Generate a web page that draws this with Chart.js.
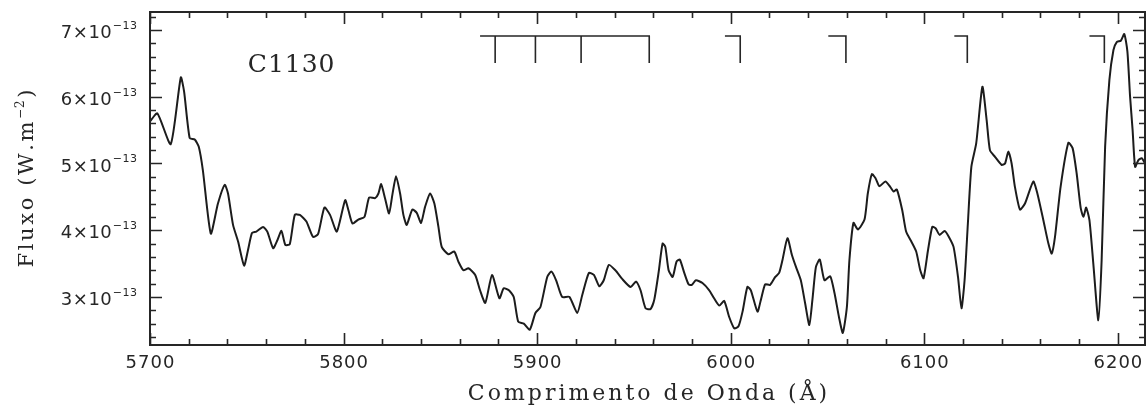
<!DOCTYPE html>
<html>
<head>
<meta charset="utf-8">
<script src="https://cdn.jsdelivr.net/npm/chart.js@4.4.1/dist/chart.umd.min.js"></script>
<style>
  html, body { margin: 0; padding: 0; background: #fff; }
  #espectro { display: block; }
</style>
</head>
<body>
<canvas id="espectro" width="1147" height="408"></canvas>
<script>
// comprimento de onda (Å)
const lambdas = [
  5700, 5703.8, 5710.7, 5715.9, 5717.6, 5720.5, 5723.1, 5725.2, 5727.3, 5731.4,
  5735.1, 5738.6, 5740.3, 5742.9, 5745.5, 5748.6, 5750.6, 5752.7, 5754.9, 5758.4,
  5760.6, 5763.6, 5765.8, 5767.9, 5769.9, 5772.2, 5774.8, 5777.4, 5780.8, 5784.2,
  5786.8, 5790.1, 5793, 5796.5, 5800.8, 5802.5, 5804.6, 5807.6, 5810.8, 5813.2,
  5816.3, 5818, 5819.4, 5821.4, 5823.5, 5825.2, 5827.1, 5829.2, 5830.9, 5832.6,
  5835.5, 5837.8, 5840, 5842.1, 5844.7, 5846.9, 5849, 5850.7, 5854.1, 5857.2,
  5859.3, 5861.9, 5864.5, 5868, 5870.5, 5873.2, 5876.7, 5880.5, 5882.7, 5885.4,
  5887.9, 5890.2, 5893.1, 5896.2, 5899.1, 5901.7, 5905.2, 5907.4, 5909.8, 5912.9,
  5916.7, 5920.7, 5923.3, 5926.7, 5929.3, 5932.1, 5934.4, 5937, 5940.4, 5943.9,
  5948.2, 5951.1, 5953.4, 5956, 5958.6, 5960.5, 5962.7, 5964.8, 5966.2, 5967.9,
  5970, 5972, 5973.7, 5976, 5978.2, 5979.9, 5982, 5985.4, 5988.9, 5991.4,
  5994.1, 5996.6, 5999.2, 6001.8, 6004, 6006.1, 6008.6, 6010.4, 6013.8, 6015.6,
  6017.8, 6020.3, 6023, 6025, 6026.7, 6029.3, 6031.6, 6033.7, 6036.2, 6038.4,
  6040.6, 6042.2, 6044, 6046, 6048.4, 6051.4, 6053.6, 6055.9, 6057.9, 6060,
  6061.3, 6063.4, 6065.7, 6069.1, 6070.8, 6072.9, 6074.8, 6076.8, 6079.9, 6082.4,
  6084.1, 6085.8, 6088.6, 6090.6, 6093.3, 6095.8, 6097.9, 6099.6, 6101.9, 6104.1,
  6105.8, 6107.9, 6110.5, 6112.7, 6115.1, 6117.4, 6119.2, 6120.8, 6122.5, 6124.3,
  6126.8, 6130, 6132.2, 6133.9, 6136.5, 6139.9, 6141.7, 6143.4, 6145.1, 6146.8,
  6149.4, 6152, 6156.3, 6158.4, 6161.5, 6164.1, 6165.8, 6167.5, 6170.4, 6174.4,
  6176.6, 6178.7, 6180.8, 6182.2, 6183.6, 6185.3, 6187.3, 6189.9, 6191.6, 6193.4,
  6195.6, 6197.7, 6199.4, 6201.5, 6203.3, 6204.9, 6206.3, 6207.6, 6208.9, 6210.6,
  6212.3, 6214
];

// fluxo, em unidades de 1e-13 W.m^-2
const fluxos = [
  5.63, 5.75, 5.29, 6.29, 6.08, 5.38, 5.36, 5.25, 4.90, 3.95,
  4.40, 4.68, 4.55, 4.08, 3.83, 3.47, 3.70, 3.96, 3.98, 4.05,
  3.98, 3.73, 3.85, 3.99, 3.78, 3.79, 4.23, 4.23, 4.13, 3.90,
  3.94, 4.34, 4.23, 3.98, 4.45, 4.30, 4.10, 4.16, 4.20, 4.49,
  4.48, 4.55, 4.69, 4.48, 4.25, 4.53, 4.81, 4.55, 4.23, 4.08,
  4.31, 4.26, 4.11, 4.35, 4.55, 4.40, 4.05, 3.75, 3.64, 3.68,
  3.53, 3.40, 3.43, 3.33, 3.10, 2.91, 3.33, 2.98, 3.13, 3.10,
  3.00, 2.63, 2.60, 2.51, 2.76, 2.85, 3.30, 3.38, 3.25, 3.00,
  3.00, 2.76, 3.03, 3.36, 3.33, 3.16, 3.25, 3.48, 3.40, 3.27,
  3.15, 3.23, 3.10, 2.83, 2.82, 2.96, 3.36, 3.80, 3.75, 3.40,
  3.30, 3.53, 3.56, 3.36, 3.19, 3.18, 3.25, 3.21, 3.10, 2.98,
  2.87, 2.94, 2.70, 2.53, 2.56, 2.78, 3.15, 3.10, 2.78, 2.96,
  3.19, 3.18, 3.30, 3.36, 3.55, 3.88, 3.63, 3.45, 3.25, 2.91,
  2.58, 2.96, 3.45, 3.56, 3.25, 3.31, 3.06, 2.70, 2.46, 2.85,
  3.55, 4.11, 4.01, 4.16, 4.55, 4.84, 4.78, 4.66, 4.73, 4.65,
  4.58, 4.61, 4.30, 3.98, 3.83, 3.68, 3.40, 3.28, 3.70, 4.05,
  4.03, 3.93, 3.99, 3.90, 3.75, 3.30, 2.83, 3.25, 4.10, 4.95,
  5.30, 6.15, 5.65, 5.20, 5.10, 4.98, 5.00, 5.18, 5.00, 4.65,
  4.31, 4.40, 4.73, 4.55, 4.15, 3.80, 3.65, 3.90, 4.65, 5.31,
  5.23, 4.85, 4.33, 4.20, 4.34, 4.15, 3.50, 2.65, 3.55, 5.25,
  6.25, 6.70, 6.82, 6.84, 6.94, 6.68, 6.00, 5.50, 4.95, 5.05,
  5.08, 5.00
];

// eixos
const xMin = 5700, xMax = 6214;
const yMin = 2.28, yMax = 7.27;
const ticksX = [5700, 5800, 5900, 6000, 6100, 6200];
const ticksY = [3, 4, 5, 6, 7];
const expoenteY = '−13';

// marcas de identificação das linhas (topo da barra e pé dos traços)
const idInicio = [5870.5, 5997, 6050.4, 6115.5, 6185.3];
const idLinhas = [[5878.3, 5899.1, 5922.7, 5957.9], [6004.9], [6059.5], [6122.2], [6193]];
const idTopo = 6.91;
const idPe = 6.505;

// textos
const rotuloObjeto = 'C1130';
const posRotulo = [5750.5, 6.47];
const tituloX = 'Comprimento de Onda (Å)';
const tituloY = ['Fluxo (W.m', '−2', ')'];

// monta os segmentos das marcas, separados por pontos nulos
const idPontos = [];
idInicio.forEach(function (x0, i) {
  const ls = idLinhas[i];
  const ultima = ls[ls.length - 1];
  idPontos.push({ x: x0, y: idTopo }, { x: ultima, y: idTopo }, { x: ultima, y: idPe }, { x: ultima, y: null });
  ls.slice(0, -1).forEach(function (x) {
    idPontos.push({ x: x, y: idTopo }, { x: x, y: idPe }, { x: x, y: null });
  });
});

const corTinta = '#262626';
const fonteNum = '"DejaVu Sans", sans-serif';
const fonteTit = '"DejaVu Serif", serif';

// texto com espaçamento entre letras, desenhado letra a letra
function larguraEspacada(ctx, txt, esp) {
  let w = 0;
  for (const ch of txt) w += ctx.measureText(ch).width + esp;
  return w - esp;
}
function textoEspacado(ctx, txt, x, y, esp) {
  for (const ch of txt) {
    ctx.fillText(ch, x, y);
    x += ctx.measureText(ch).width + esp;
  }
  return x - esp;
}

// moldura com ticks para dentro nos quatro lados, rótulos e títulos
const molduraPgplot = {
  id: 'molduraPgplot',
  afterDatasetsDraw(chart) {
    const ctx = chart.ctx;
    const xs = chart.scales.x, ys = chart.scales.y;
    const { left, right, top, bottom } = chart.chartArea;
    ctx.save();
    ctx.strokeStyle = corTinta;
    ctx.lineWidth = 1.6;
    ctx.beginPath();
    for (let k = Math.ceil(xMin / 20); k * 20 <= xMax; k++) {
      const px = Math.round(xs.getPixelForValue(k * 20)) + 0.5;
      const len = k % 5 === 0 ? 12 : 6;
      ctx.moveTo(px, bottom); ctx.lineTo(px, bottom - len);
      ctx.moveTo(px, top); ctx.lineTo(px, top + len);
    }
    for (let k = Math.ceil(yMin * 5); k <= yMax * 5; k++) {
      const py = Math.round(ys.getPixelForValue(k / 5)) + 0.5;
      const len = k % 5 === 0 ? 12 : 6;
      ctx.moveTo(left, py); ctx.lineTo(left + len, py);
      ctx.moveTo(right, py); ctx.lineTo(right - len, py);
    }
    ctx.stroke();
    ctx.lineWidth = 2;
    ctx.strokeRect(left, top, right - left, bottom - top);
    ctx.restore();
  },
  afterDraw(chart) {
    const ctx = chart.ctx;
    const xs = chart.scales.x, ys = chart.scales.y;
    const { left, right, top, bottom } = chart.chartArea;
    ctx.save();
    ctx.fillStyle = corTinta;

    // números do eixo x
    ctx.font = '18px ' + fonteNum;
    ctx.textBaseline = 'middle';
    ticksX.forEach(function (v) {
      const t = String(v);
      const w = larguraEspacada(ctx, t, 1);
      textoEspacado(ctx, t, xs.getPixelForValue(v) - w / 2, bottom + 18, 1);
    });

    // números do eixo y, com expoente
    ticksY.forEach(function (v) {
      const py = ys.getPixelForValue(v);
      ctx.font = '11px ' + fonteNum;
      const wSup = larguraEspacada(ctx, expoenteY, 0.5);
      ctx.font = '18px ' + fonteNum;
      const base = v + '×10';
      const wBase = larguraEspacada(ctx, base, 0.5);
      const xFim = left - 13;
      textoEspacado(ctx, base, xFim - wSup - 1 - wBase, py + 3.5, 0.5);
      ctx.font = '11px ' + fonteNum;
      textoEspacado(ctx, expoenteY, xFim - wSup, py - 4, 0.5);
    });

    // rótulo do objeto
    ctx.font = '25px ' + fonteTit;
    ctx.textBaseline = 'middle';
    textoEspacado(ctx, rotuloObjeto, xs.getPixelForValue(posRotulo[0]), ys.getPixelForValue(posRotulo[1]), 1);

    // título do eixo x
    ctx.font = '22px ' + fonteTit;
    ctx.textBaseline = 'alphabetic';
    const espX = 3;
    const wx = larguraEspacada(ctx, tituloX, espX);
    textoEspacado(ctx, tituloX, (left + right) / 2 - wx / 2, 400, espX);

    // título do eixo y, girado
    const espY = 2.6;
    ctx.translate(33, (top + bottom) / 2);
    ctx.rotate(-Math.PI / 2);
    ctx.font = '21px ' + fonteTit;
    const w1 = larguraEspacada(ctx, tituloY[0], espY);
    const w3 = larguraEspacada(ctx, tituloY[2], espY);
    ctx.font = '12px ' + fonteTit;
    const w2 = larguraEspacada(ctx, tituloY[1], 1);
    let x = -(w1 + w2 + w3 + 2 * espY) / 2;
    ctx.font = '21px ' + fonteTit;
    x = textoEspacado(ctx, tituloY[0], x, 0, espY) + espY;
    ctx.font = '12px ' + fonteTit;
    x = textoEspacado(ctx, tituloY[1], x, -9, 1) + espY;
    ctx.font = '21px ' + fonteTit;
    textoEspacado(ctx, tituloY[2], x, 0, espY);
    ctx.restore();
  }
};

const ctx = document.getElementById('espectro').getContext('2d');
const grafico = new Chart(ctx, {
  type: 'line',
  data: {
    datasets: [
      {
        label: rotuloObjeto,
        data: lambdas.map(function (x, i) { return { x: x, y: fluxos[i] }; }),
        borderColor: '#1c1c1c',
        borderWidth: 2,
        pointRadius: 0,
        tension: 0.2,
        borderJoinStyle: 'round',
      },
      {
        label: 'identificações',
        data: idPontos,
        borderColor: corTinta,
        borderWidth: 1.6,
        pointRadius: 0,
        spanGaps: false,
        tension: 0,
      },
    ],
  },
  options: {
    responsive: false,
    animation: false,
    events: [],
    layout: { padding: { left: 150, right: 2, top: 12, bottom: 63 } },
    plugins: { legend: { display: false }, tooltip: { enabled: false } },
    scales: {
      x: { type: 'linear', min: xMin, max: xMax, display: false },
      y: { type: 'linear', min: yMin, max: yMax, display: false },
    },
  },
  plugins: [molduraPgplot],
});
</script>
</body>
</html>
